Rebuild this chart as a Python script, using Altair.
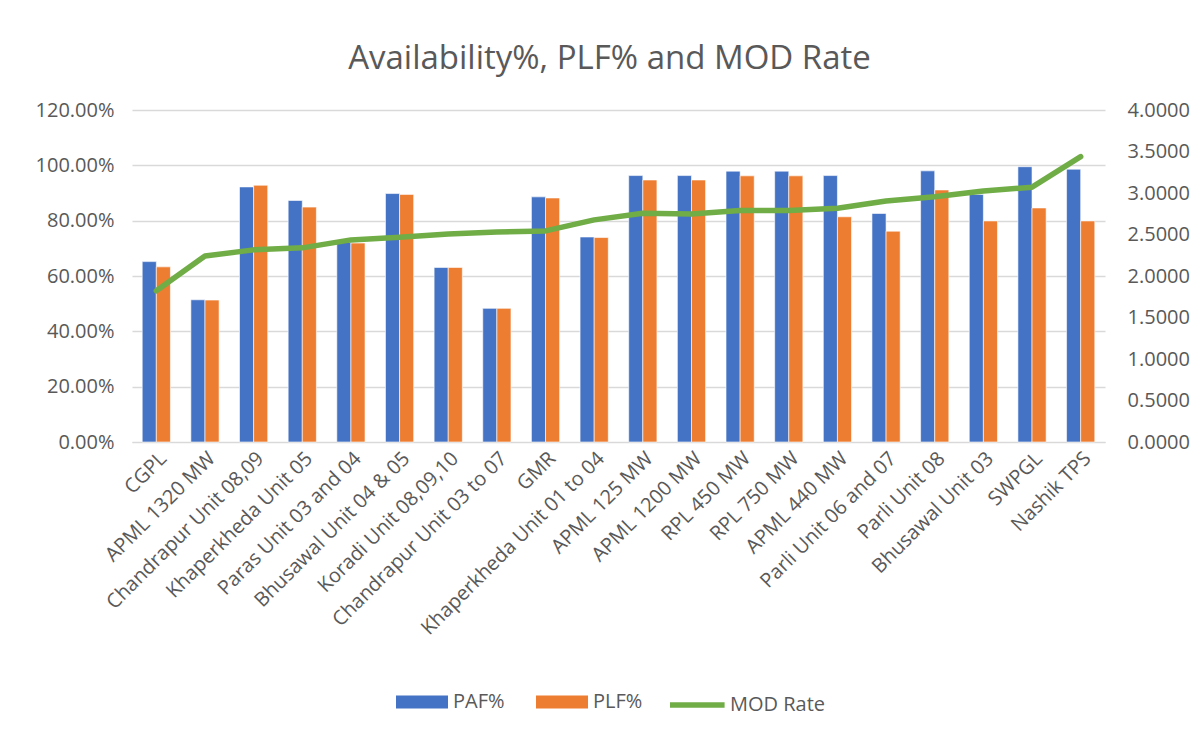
import altair as alt
import pandas as pd

categories = ["CGPL", "APML 1320 MW", "Chandrapur Unit 08,09", "Khaperkheda Unit 05",
              "Paras Unit 03 and 04", "Bhusawal Unit 04 & 05", "Koradi Unit 08,09,10",
              "Chandrapur Unit 03 to 07", "GMR", "Khaperkheda Unit 01 to 04", "APML 125 MW",
              "APML 1200 MW", "RPL 450 MW", "RPL 750 MW", "APML 440 MW", "Parli Unit 06 and 07",
              "Parli Unit 08", "Bhusawal Unit 03", "SWPGL", "Nashik TPS"]
paf = [0.652, 0.514, 0.922, 0.873, 0.722, 0.898, 0.631, 0.483, 0.886, 0.741, 0.963,
       0.963, 0.979, 0.979, 0.963, 0.826, 0.980, 0.895, 0.995, 0.986]
plf = [0.633, 0.513, 0.928, 0.849, 0.719, 0.895, 0.631, 0.483, 0.882, 0.739, 0.947,
       0.947, 0.962, 0.962, 0.814, 0.762, 0.911, 0.799, 0.846, 0.799]
mod_rate = [1.821, 2.242, 2.315, 2.339, 2.435, 2.467, 2.507, 2.531, 2.543, 2.676, 2.756,
            2.748, 2.788, 2.788, 2.816, 2.904, 2.956, 3.025, 3.070, 3.438]

series_names = ["PAF%", "PLF%"]

bars_df = pd.DataFrame(
    [{"cat": c, "series": "PAF%", "value": v} for c, v in zip(categories, paf)]
    + [{"cat": c, "series": "PLF%", "value": v} for c, v in zip(categories, plf)]
)
line_df = pd.DataFrame({"cat": categories, "mod": mod_rate, "series": "MOD Rate"})

FONT = "Open Sans"
GREY = "#595959"
FS = 20

x_enc = alt.X("cat:N", sort=categories, title=None,
              scale=alt.Scale(paddingInner=0.42, paddingOuter=0.21),
              axis=alt.Axis(labelAngle=-45, labelFontSize=FS, labelColor=GREY, labelFont=FONT,
                            ticks=False, domain=True, domainColor="#d9d9d9", labelPadding=6,
                            labelLimit=400))

bars = alt.Chart(bars_df).mark_bar(stroke="white", strokeWidth=0.6).encode(
    x=x_enc,
    xOffset=alt.XOffset("series:N", sort=series_names),
    y=alt.Y("value:Q", title=None, scale=alt.Scale(domain=[0, 1.2]),
            axis=alt.Axis(format=".2%", values=[0, 0.2, 0.4, 0.6, 0.8, 1.0, 1.2],
                          labelFontSize=FS, labelColor=GREY, labelFont=FONT, ticks=False,
                          domain=False, gridColor="#d9d9d9", gridWidth=1.3, labelPadding=18)),
    color=alt.Color("series:N", sort=series_names,
                    scale=alt.Scale(domain=series_names, range=["#4472c4", "#ed7d31"]),
                    legend=alt.Legend(title=None, orient="none", direction="horizontal",
                                      legendX=264, legendY=579,
                                      symbolType="M -1 -0.5 H 3 V 0.5 H -1 Z", symbolSize=676,
                                      symbolStrokeWidth=0, labelFontSize=FS, labelColor=GREY,
                                      labelFont=FONT, columnPadding=31, labelOffset=31)),
)

line = alt.Chart(line_df).mark_line(strokeWidth=5.5, strokeCap="round", strokeJoin="round").encode(
    x=alt.X("cat:N", sort=categories),
    y=alt.Y("mod:Q", title=None, scale=alt.Scale(domain=[0, 4]),
            axis=alt.Axis(format=".4f", orient="right", values=[0, 0.5, 1, 1.5, 2, 2.5, 3, 3.5, 4],
                          labelFontSize=FS, labelColor=GREY, labelFont=FONT, ticks=False,
                          domain=False, grid=False, labelPadding=22)),
    stroke=alt.Stroke("series:N", scale=alt.Scale(domain=["MOD Rate"], range=["#70ad47"]),
                      legend=alt.Legend(title=None, orient="none", legendX=535, legendY=579,
                                        symbolType="M -1 0 H 3.2", symbolSize=676,
                                        symbolStrokeWidth=5.5, labelFontSize=FS, labelColor=GREY,
                                        labelFont=FONT, labelOffset=31)),
)

chart = alt.layer(bars, line).resolve_scale(y="independent", color="independent").properties(
    width=973, height=332,
    title=alt.TitleParams("Availability%, PLF% and MOD Rate", fontSize=33, color=GREY,
                          font=FONT, fontWeight="normal", offset=24, anchor="middle", dx=-9),
    autosize=alt.AutoSizeParams(type="none"),
    padding={"left": 124, "top": 102, "right": 85, "bottom": 285},
    background="white",
).configure_view(stroke=None)

chart.save("out.html", embed_options={"renderer": "svg", "actions": False})
